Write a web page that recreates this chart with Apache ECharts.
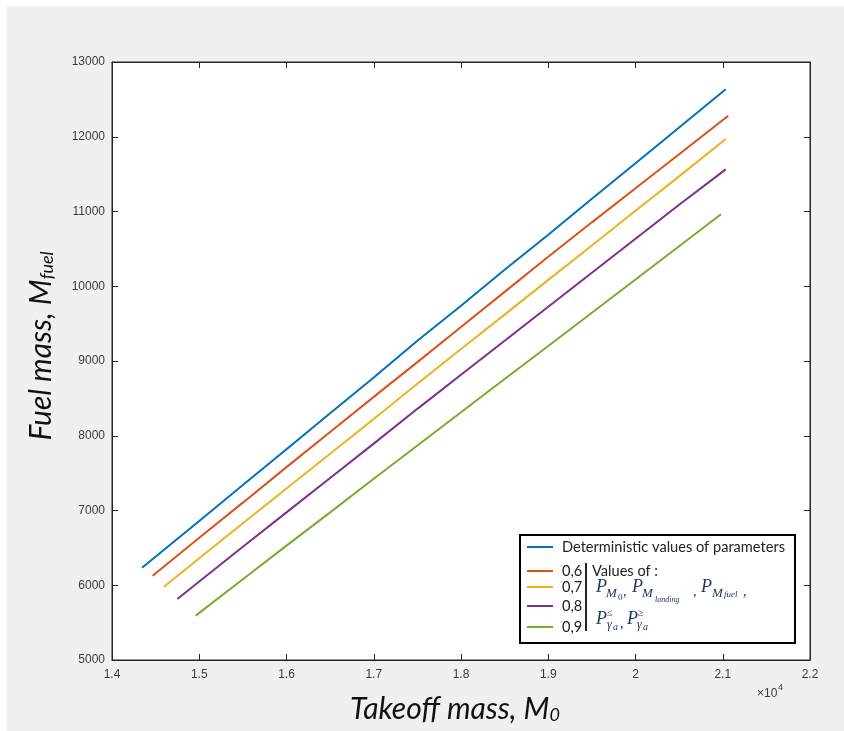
<!DOCTYPE html>
<html>
<head>
<meta charset="utf-8">
<script src="https://cdn.jsdelivr.net/npm/echarts@6/dist/echarts.min.js"></script>
<style>
html,body{margin:0;padding:0;background:#fff;}
#bg{position:absolute;left:7px;top:6px;width:837px;height:725px;background:#f0f0f0;}
#chart{position:absolute;left:0;top:0;width:844px;height:731px;}
</style>
</head>
<body>
<div id="bg"></div>
<div id="chart"></div>
<script>
// Takeoff mass values (kg) and fuel mass values
var xDet = [14344, 15000, 15500, 16000, 16500, 17000, 17500, 18000, 18500, 19000, 19500, 20000, 20500, 21034];
var yDet = [6235, 6860, 7340, 7820, 8300, 8780, 9270, 9740, 10220, 10690, 11170, 11645, 12125, 12635];

var x06 = [14466, 15000, 15500, 16000, 16500, 17000, 17500, 18000, 18500, 19000, 19500, 20000, 20500, 21063];
var y06 = [6128, 6635, 7105, 7580, 8050, 8520, 8985, 9455, 9925, 10395, 10855, 11310, 11765, 12282];

var x07 = [14596, 15000, 15500, 16000, 16500, 17000, 17500, 18000, 18500, 19000, 19500, 20000, 20500, 21034];
var y07 = [5981, 6360, 6830, 7295, 7760, 8225, 8695, 9160, 9620, 10085, 10545, 11010, 11470, 11970];

var x08 = [14749, 15000, 15500, 16000, 16500, 17000, 17500, 18000, 18500, 19000, 19500, 20000, 20500, 21034];
var y08 = [5816, 6050, 6515, 6975, 7435, 7895, 8360, 8815, 9270, 9725, 10180, 10635, 11090, 11564];

var x09 = [14959, 15000, 15500, 16000, 16500, 17000, 17500, 18000, 18500, 19000, 19500, 20000, 20500, 20980];
var y09 = [5593, 5630, 6080, 6530, 6975, 7425, 7870, 8315, 8760, 9200, 9645, 10090, 10535, 10963];

var seriesNames = ['Deterministic values of parameters', '0,6', '0,7', '0,8', '0,9'];
var seriesColors = ['#0072BD', '#D95319', '#EDB120', '#7E2F8E', '#77AC30'];
var xTicksMin = 14000, xTicksMax = 22000, xTickStep = 1000;
var yTicksMin = 5000, yTicksMax = 13000, yTickStep = 1000;

function pairs(xs, ys) { return xs.map(function (x, i) { return [x, ys[i]]; }); }
var allX = [xDet, x06, x07, x08, x09];
var allY = [yDet, y06, y07, y08, y09];

var chart = echarts.init(document.getElementById('chart'), null, { renderer: 'canvas' });

var axisLine = { show: true, onZero: false, lineStyle: { color: '#262626', width: 1 } };
var axisTick = { show: true, inside: true, length: 6, lineStyle: { color: '#262626', width: 1 } };
var tickFont = { fontFamily: 'Liberation Sans, Arial, sans-serif', fontSize: 12, color: '#3a3a3a' };
var titleFont = 'Lato, "Open Sans", sans-serif';
var formulaColor = '#1f3864';
var serif = '"Liberation Serif", "Times New Roman", serif';

function ftext(txt, x, y, size, italic) {
  return {
    type: 'text', z: 30,
    style: {
      text: txt, x: x, y: y,
      font: (italic ? 'italic ' : '') + size + 'px ' + serif,
      fill: formulaColor, textAlign: 'left', verticalAlign: 'middle', textVerticalAlign: 'middle'
    }
  };
}

var legendBase = {
  orient: 'vertical', padding: 0, itemWidth: 26, itemHeight: 2, icon: 'rect', z: 40,
  left: 527, selectedMode: false,
  textStyle: { fontFamily: titleFont, fontSize: 14.6, color: '#222', lineHeight: 16, padding: [0, 0, 0, 4] }
};
var legendTops = [539, 563, 579, 598, 619];
var legends = seriesNames.map(function (n, i) {
  return Object.assign({}, legendBase, { data: [n], top: legendTops[i] });
});

var option = {
  animation: false,
  backgroundColor: 'transparent',
  grid: { left: 112, right: 34, top: 62, bottom: 71, show: true, backgroundColor: '#fff', borderColor: '#262626', borderWidth: 1 },
  legend: legends,
  xAxis: [{
    type: 'value', position: 'bottom', min: xTicksMin, max: xTicksMax, interval: xTickStep,
    axisLine: axisLine, axisTick: axisTick, splitLine: { show: false },
    axisLabel: Object.assign({ margin: 9, formatter: function (v) { return String(+(v / 10000).toFixed(2)); } }, tickFont),
    name: '{m|Takeoff mass, M}{s|0}', nameLocation: 'middle', nameGap: 30,
    nameTextStyle: {
      padding: [0, 12, 0, 0],
      rich: {
        m: { fontFamily: titleFont, fontStyle: 'italic', fontSize: 30, color: '#111', verticalAlign: 'bottom', lineHeight: 34 },
        s: { fontFamily: titleFont, fontStyle: 'italic', fontSize: 18, color: '#111', verticalAlign: 'bottom', lineHeight: 14 }
      }
    }
  }, {
    type: 'value', position: 'top', min: xTicksMin, max: xTicksMax, interval: xTickStep,
    axisLine: axisLine, axisTick: axisTick, axisLabel: { show: false }, splitLine: { show: false }
  }],
  yAxis: [{
    type: 'value', position: 'left', min: yTicksMin, max: yTicksMax, interval: yTickStep,
    axisLine: axisLine, axisTick: axisTick, splitLine: { show: false },
    axisLabel: Object.assign({ margin: 7, formatter: function (v) { return String(v); } }, tickFont),
    name: '{m|Fuel mass, M}{s|fuel}', nameLocation: 'middle', nameGap: 56, nameRotate: 90,
    nameTextStyle: {
      padding: [0, 0, 0, 30],
      rich: {
        m: { fontFamily: titleFont, fontStyle: 'italic', fontSize: 30, color: '#111', verticalAlign: 'bottom', lineHeight: 34 },
        s: { fontFamily: titleFont, fontStyle: 'italic', fontSize: 18, color: '#111', verticalAlign: 'bottom', lineHeight: 14 }
      }
    }
  }, {
    type: 'value', position: 'right', min: yTicksMin, max: yTicksMax, interval: yTickStep,
    axisLine: axisLine, axisTick: axisTick, axisLabel: { show: false }, splitLine: { show: false }
  }],
  series: seriesNames.map(function (n, i) {
    return {
      name: n, type: 'line', data: pairs(allX[i], allY[i]), showSymbol: false, symbol: 'none',
      xAxisIndex: 0, yAxisIndex: 0, z: 3,
      lineStyle: { color: seriesColors[i], width: 2 }, itemStyle: { color: seriesColors[i] }
    };
  }),
  graphic: [
    { type: 'rect', z: 20, shape: { x: 520, y: 535, width: 275, height: 108 }, style: { fill: '#fff', stroke: '#000', lineWidth: 2 } },
    { type: 'line', z: 30, shape: { x1: 586, y1: 563, x2: 586, y2: 631 }, style: { stroke: '#222', lineWidth: 2 } },
    { type: 'text', z: 30, style: { text: 'Values of :', x: 592, y: 571, font: '14.6px ' + titleFont, fill: '#222', textAlign: 'left', verticalAlign: 'middle', textVerticalAlign: 'middle' } },
    ftext('P', 596, 587, 18, true), ftext('M', 606, 594, 13, true), ftext('0', 618, 598, 9, false), ftext(',', 623, 592, 14, false),
    ftext('P', 632, 587, 18, true), ftext('M', 642, 594, 13, true), ftext('landing', 655, 600, 8, true), ftext(',', 693, 592, 14, false),
    ftext('P', 701, 587, 18, true), ftext('M', 712, 594, 13, true), ftext('fuel', 724, 595, 9, true), ftext(',', 743, 592, 14, false),
    ftext('P', 596, 619, 18, true), ftext('\u2264', 607, 613, 10, false), ftext('\u03b3', 607, 625, 12, true), ftext('a', 613, 627, 10, true), ftext(',', 620, 624, 14, false),
    ftext('P', 627, 619, 18, true), ftext('\u2265', 638, 613, 10, false), ftext('\u03b3', 637, 625, 12, true), ftext('a', 643, 627, 10, true),
    { type: 'text', z: 30, style: { text: '\u00d710', x: 757, y: 694, font: '12px Liberation Sans, Arial, sans-serif', fill: '#3a3a3a', textAlign: 'left', verticalAlign: 'middle', textVerticalAlign: 'middle' } },
    { type: 'text', z: 30, style: { text: '4', x: 778, y: 688, font: '9px Liberation Sans, Arial, sans-serif', fill: '#3a3a3a', textAlign: 'left', verticalAlign: 'middle', textVerticalAlign: 'middle' } }
  ]
};
chart.setOption(option);
</script>
</body>
</html>
